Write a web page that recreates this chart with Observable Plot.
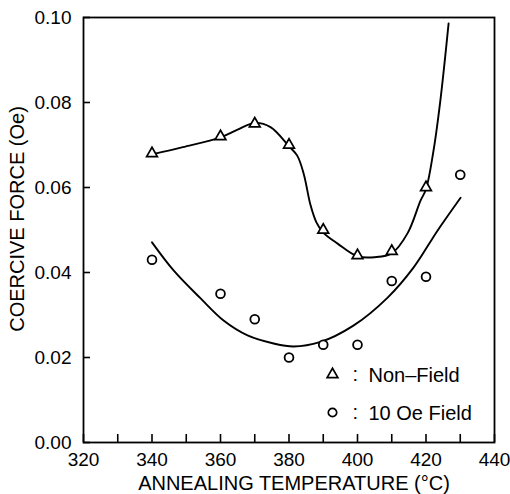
<!DOCTYPE html>
<html><head><meta charset="utf-8">
<script src="https://cdn.jsdelivr.net/npm/d3@7"></script>
<script src="https://cdn.jsdelivr.net/npm/@observablehq/plot@0.6"></script>
<style>body{margin:0;background:#fff}</style>
</head><body><div id="chart"></div>
<script>
// Measured points
const nonFieldT  = [340, 360, 370, 380, 390, 400, 410, 420];
const nonFieldHc = [0.068, 0.072, 0.075, 0.070, 0.050, 0.044, 0.045, 0.060];
const fieldT  = [340, 360, 370, 380, 390, 400, 410, 420, 430];
const fieldHc = [0.043, 0.035, 0.029, 0.020, 0.023, 0.023, 0.038, 0.039, 0.063];

// Fitted curves
const nonFieldFitT  = [340, 349, 360, 365, 370, 374.6, 380, 382.4, 384.3, 386.3, 388, 390, 394.2, 400, 405, 410, 414.6, 418.4, 420, 422.2, 424.2, 426.6];
const nonFieldFitHc = [0.0678, 0.0695, 0.0718, 0.0736, 0.0752, 0.0742, 0.0697, 0.0675, 0.0632, 0.0558, 0.0518, 0.0494, 0.0468, 0.0438, 0.0436, 0.0445, 0.0492, 0.0569, 0.0596, 0.0687, 0.0805, 0.0986];
const fieldFitT  = [340, 346.3, 354.2, 360.9, 367.9, 375.5, 381.3, 389, 398.8, 408.8, 416.4, 423.4, 430.1];
const fieldFitHc = [0.0471, 0.0405, 0.0339, 0.0287, 0.0252, 0.0233, 0.0226, 0.0236, 0.0275, 0.0341, 0.0412, 0.0499, 0.0576];

// Axes
const xTicks = [320, 330, 340, 350, 360, 370, 380, 390, 400, 410, 420, 430, 440];
const xTickLabels = [320, 340, 360, 380, 400, 420, 440];
const yTicks = [0, 0.02, 0.04, 0.06, 0.08, 0.10];
const xTitle = "ANNEALING TEMPERATURE (°C)";
const yTitle = "COERCIVE FORCE (Oe)";

// Legend
const legendSymbols = ["triangle", "circle"];
const legendLabels = ["Non–Field", "10 Oe Field"];

const zip = (a, b) => a.map((v, i) => ({t: v, hc: b[i]}));
const nonField = zip(nonFieldT, nonFieldHc);
const field = zip(fieldT, fieldHc);
const nonFieldFit = zip(nonFieldFitT, nonFieldFitHc);
const fieldFit = zip(fieldFitT, fieldFitHc);

const font = "'Liberation Sans', Arial, sans-serif";
const rowDy = [357, 395];
const legendMarks = legendSymbols.flatMap((s, i) => [
  Plot.dot([s], {frameAnchor: "top-left", dx: 249, dy: rowDy[i], symbol: d => d,
    r: s === "triangle" ? 4 : 4.2, stroke: "black", fill: "white", strokeWidth: 1.7}),
  Plot.text([":"], {frameAnchor: "top-left", dx: 269, dy: rowDy[i], lineAnchor: "middle", fontSize: 20, fill: "black"}),
  Plot.text([legendLabels[i]], {frameAnchor: "top-left", dx: 285, dy: rowDy[i] + 1, lineAnchor: "middle", textAnchor: "start",
    fontSize: 20, fill: "black", wordSpacing: "5px"})
]);

const fmtX = d => xTickLabels.includes(d) ? String(d) : "";
const hasAxisMarks = typeof Plot.axisX === "function";
const axisMarks = hasAxisMarks ? [
  Plot.axisX({ticks: xTicks, tickSize: 8, dy: -8, fill: "none", label: null, strokeWidth: 1.6, stroke: "black"}),
  Plot.axisX({ticks: xTickLabels, tickSize: 0, tickPadding: 10, label: null, fontSize: 19, fill: "black"}),
  Plot.axisY({ticks: yTicks, tickSize: 7, dx: 7, fill: "none", label: null, strokeWidth: 1.6, stroke: "black"}),
  Plot.axisY({ticks: yTicks, tickSize: 0, tickPadding: 12, label: null, tickFormat: d3.format(".2f"), fontSize: 19, fill: "black"})
] : [];

const chart = Plot.plot({
  width: 510, height: 494,
  marginLeft: 83, marginRight: 16, marginTop: 17, marginBottom: 52,
  x: hasAxisMarks ? {domain: [320, 440]} :
    {domain: [320, 440], ticks: xTicks, tickSize: -8, tickPadding: 10, tickFormat: fmtX, label: null},
  y: hasAxisMarks ? {domain: [0, 0.1]} :
    {domain: [0, 0.1], ticks: yTicks, tickSize: -7, tickPadding: 12, tickFormat: d3.format(".2f"), label: null},
  style: {fontFamily: font, fontSize: "19px", color: "black", background: "white"},
  marks: [
    Plot.frame({stroke: "black", strokeWidth: 1.8}),
    ...axisMarks,
    Plot.text([xTitle], {frameAnchor: "bottom", dx: 5, dy: 41, lineAnchor: "middle", fontSize: 20, fill: "black", wordSpacing: "9px"}),
    Plot.text([yTitle], {frameAnchor: "left", rotate: -90, dx: -66, dy: -11, textAnchor: "middle", lineAnchor: "middle", fontSize: 20, fill: "black", wordSpacing: "8px"}),
    Plot.line(nonFieldFit, {x: "t", y: "hc", curve: "catmull-rom", stroke: "black", strokeWidth: 1.9}),
    Plot.line(fieldFit, {x: "t", y: "hc", curve: "catmull-rom", stroke: "black", strokeWidth: 1.9}),
    Plot.dot(nonField, {x: "t", y: "hc", symbol: "triangle", r: 4, stroke: "black", fill: "white", strokeWidth: 1.7}),
    Plot.dot(field, {x: "t", y: "hc", symbol: "circle", r: 4.4, stroke: "black", fill: "white", strokeWidth: 1.8}),
    ...legendMarks
  ]
});
document.getElementById("chart").append(chart);
</script>
</body></html>
